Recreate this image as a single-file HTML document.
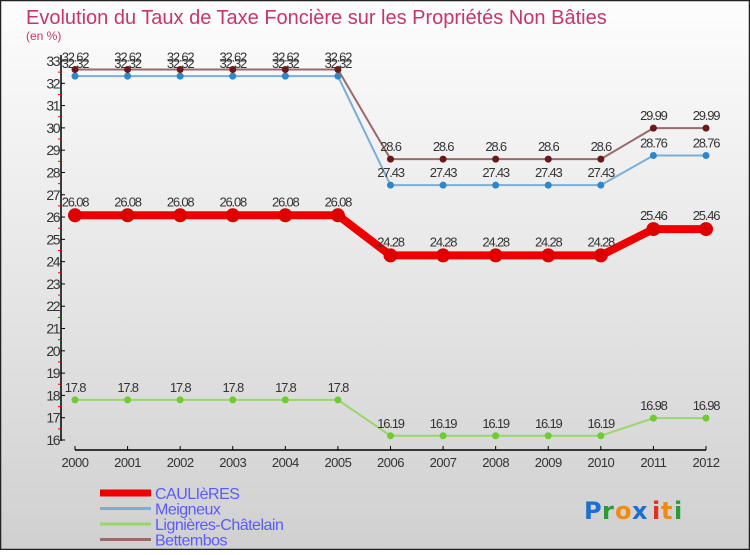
<!DOCTYPE html>
<html><head><meta charset="utf-8"><style>
html,body{margin:0;padding:0}
body{width:750px;height:550px;overflow:hidden;font-family:"Liberation Sans",sans-serif}
</style></head><body>
<svg id="chart" width="750" height="550" xmlns="http://www.w3.org/2000/svg">
<defs><linearGradient id="bg" x1="0" y1="0" x2="0" y2="1"><stop offset="0" stop-color="#fdfdfd"/><stop offset="1" stop-color="#d0d0d0"/></linearGradient></defs>
<rect x="0.5" y="0.5" width="749" height="549" fill="url(#bg)" stroke="#222" stroke-width="1.5"/>
<text x="26" y="24" font-size="20" fill="#c8356a">Evolution du Taux de Taxe Foncière sur les Propriétés Non Bâties</text>
<text x="26" y="40" font-size="12" fill="#c8356a">(en %)</text>
<g id="axes"></g>
<g id="series"></g>
<g id="legend"></g>
<g font-size="24" font-weight="bold" font-family="'DejaVu Sans',sans-serif">
<text x="584" y="519" fill="#1a6fd0">P</text><text x="602" y="519" fill="#2a9a3a">r</text><text x="615" y="519" fill="#f08a10">o</text><text x="632" y="519" fill="#1a6fd0">x</text><text x="652" y="519" fill="#e03020">i</text><text x="661" y="519" fill="#f08a10">t</text><text x="674" y="519" fill="#2a9a3a">i</text>
</g>
</svg>
<script>
const years=[2000,2001,2002,2003,2004,2005,2006,2007,2008,2009,2010,2011,2012];
const yTicks=[16,17,18,19,20,21,22,23,24,25,26,27,28,29,30,31,32,33];
const caulieres=[26.08,26.08,26.08,26.08,26.08,26.08,24.28,24.28,24.28,24.28,24.28,25.46,25.46];
const meigneux=[32.32,32.32,32.32,32.32,32.32,32.32,27.43,27.43,27.43,27.43,27.43,28.76,28.76];
const lignieres=[17.8,17.8,17.8,17.8,17.8,17.8,16.19,16.19,16.19,16.19,16.19,16.98,16.98];
const bettembos=[32.62,32.62,32.62,32.62,32.62,32.62,28.6,28.6,28.6,28.6,28.6,29.99,29.99];
const NS="http://www.w3.org/2000/svg";
function xs(i){return 75+i*(706-75)/(years.length-1);}
function ys(v){return 61+(33-v)*(440-61)/17;}
function mk(tag,at,parent){const e=document.createElementNS(NS,tag);for(const k in at)e.setAttribute(k,at[k]);parent.appendChild(e);return e;}
const axes=document.getElementById('axes');
let a=mk('line',{x1:61,y1:55,x2:61,y2:441,stroke:'#000','stroke-width':1.5},axes);


a=mk('line',{x1:75,y1:450,x2:706,y2:450,stroke:'#000','stroke-width':1.5},axes);


yTicks.forEach(v=>{
 const y=ys(v);
 mk('line',{x1:61,y1:y,x2:65,y2:y,stroke:'#000'},axes);
 if(v<33){mk('line',{x1:58,y1:ys(v+0.5),x2:61,y2:ys(v+0.5),stroke:'#e00'},axes);}
 const t=mk('text',{x:59,y:y+5,'font-size':14,'text-anchor':'end',fill:'#333','letter-spacing':'-1.5'},axes);
 t.textContent=v;
 
 
});
years.forEach((yr,i)=>{
 const x=xs(i);
 mk('line',{x1:x,y1:446,x2:x,y2:450,stroke:'#000'},axes);
 const t=mk('text',{x:x,y:467,'font-size':13,'text-anchor':'middle',fill:'#333','letter-spacing':'-0.5'},axes);
 t.textContent=yr;
 
 
});
const series=[
 {name:'caulieres',label:'CAULIèRES',data:caulieres,color:'#ee0000',pt:'#dd0000',w:8,r:7,off:-9},
 {name:'meigneux',label:'Meigneux',data:meigneux,color:'#7aaed6',pt:'#2f86c8',w:2,r:3.5,off:-8},
 {name:'lignieres',label:'Lignières-Châtelain',data:lignieres,color:'#9ad66a',pt:'#6ecb30',w:2,r:3.5,off:-8},
 {name:'bettembos',label:'Bettembos',data:bettembos,color:'#9a6a6a',pt:'#6a1818',w:2,r:3.5,off:-8}
];
const sg=document.getElementById('series');
[series[1],series[3],series[2],series[0]].forEach(s=>{
 const g=mk('g',{},sg);
 
 
 const p=mk('polyline',{points:s.data.map((v,i)=>xs(i)+','+ys(v)).join(' '),fill:'none',stroke:s.color,'stroke-width':s.w},g);
 
 
 s.data.forEach((v,i)=>{
  const c=mk('circle',{cx:xs(i),cy:ys(v),r:s.r,fill:s.pt},g);
  
  
  const t=mk('text',{x:xs(i),y:ys(v)+s.off,'font-size':13,'text-anchor':'middle',fill:'#333','letter-spacing':'-1.2'},g);
  t.textContent=v;
  
  
 });
});
const lg=document.getElementById('legend');
series.forEach((s,i)=>{
 const y=493+i*15.5;
 const g=mk('g',{},lg);
 
 
 mk('line',{x1:100,y1:y,x2:151,y2:y,stroke:s.color,'stroke-width':s.w===8?7:3},g);
 const t=mk('text',{x:155,y:y+6,'font-size':16,fill:'#5a5aff','letter-spacing':'-0.5'},g);
 t.textContent=s.label;
});
</script>
</body></html>
